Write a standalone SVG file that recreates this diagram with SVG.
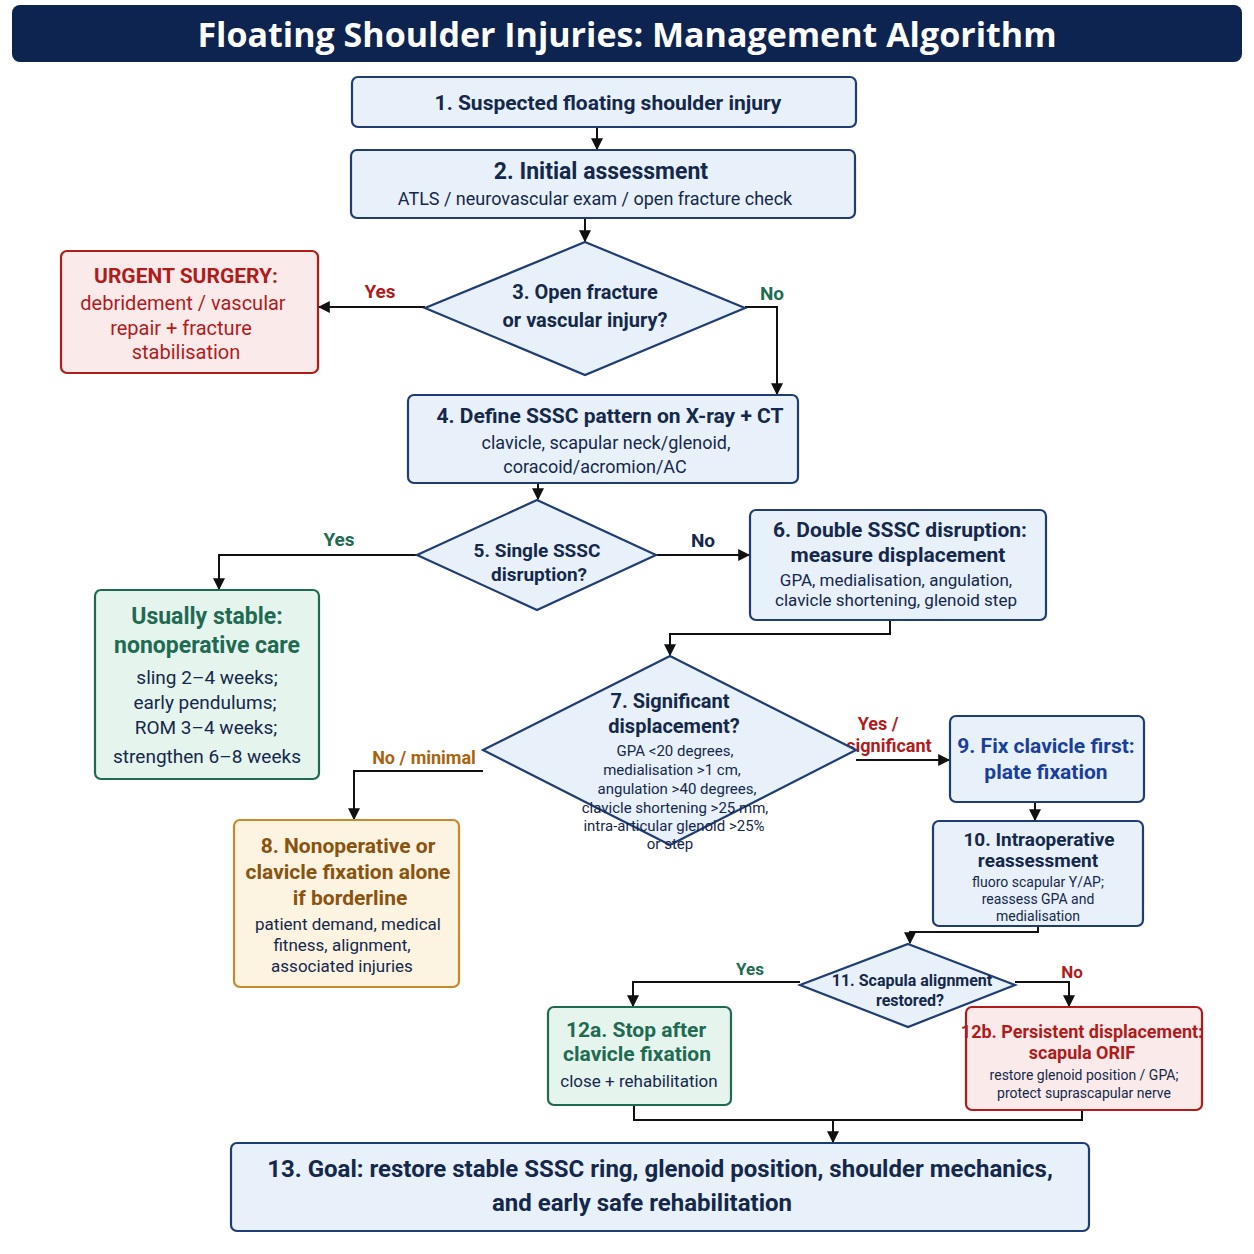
<svg xmlns="http://www.w3.org/2000/svg" width="1254" height="1254" viewBox="0 0 1254 1254">
<style>
text{font-family:Roboto,"Noto Sans",sans-serif;text-anchor:middle;fill:#14284b}
.n{fill:#e8f0fa;stroke:#1f3d73;stroke-width:2.2}
.t{font-weight:bold;font-size:21px}
.s{font-size:17px}
.xs{font-size:14px}
.g rect{fill:#e6f4ee;stroke:#1e6b52;stroke-width:2.2}
.g text{fill:#1e6b52}
.r rect{fill:#fbeaea;stroke:#b01c1c;stroke-width:2.2}
.r text.t{fill:#b01c1c}
.o rect{fill:#fdf3e1;stroke:#c8892b;stroke-width:2.2}
.o text.t{fill:#8a5410}
.c path{fill:none;stroke:#111;stroke-width:2;marker-end:url(#a)}
.l{font-weight:bold;font-size:19px}
</style>
<defs><marker id="a" viewBox="0 0 10 10" refX="9" refY="5" markerWidth="6" markerHeight="6" orient="auto"><path d="M0,0L10,5L0,10z" fill="#111"/></marker></defs>
<rect width="1254" height="1254" fill="#fff"/>
<g id="title"><rect x="12" y="5" width="1230" height="57" rx="8" fill="#0d2350"/><text x="627" y="47" style="fill:#fff;font-weight:bold;font-size:34px;font-family:'Open Sans',sans-serif">Floating Shoulder Injuries: Management Algorithm</text></g>
<g class="c" id="connectors">
<path d="M597,127V149"/><path d="M585,218V241"/>
<path d="M425,307H319"/><path d="M745,307H777V394"/>
<path d="M538,483V499"/>
<path d="M417,555H219V589"/><path d="M656,555H749"/>
<path d="M890,620V634H670V655"/>
<path d="M483,771H354V819"/><path d="M856,760H949"/>
<path d="M1035,802V820"/>
<path d="M1038,926V932H910V943"/>
<path d="M800,982H633V1006"/><path d="M1015,982H1069V1006"/>
<path d="M634,1105V1120H1082V1110" style="marker-end:none"/><path d="M833,1120V1142"/>
</g>
<g id="labels">
<text x="380" y="298" class="l" style="fill:#b01c1c">Yes</text>
<text x="772" y="300" class="l" style="fill:#1e6b52">No</text>
<text x="339" y="546" class="l" style="fill:#1e6b52">Yes</text>
<text x="703" y="547" class="l" style="fill:#14284b">No</text>
<text x="424" y="764" class="l" style="fill:#a8640f;font-size:18px">No / minimal</text>
<text x="878" y="730" class="l" style="fill:#b01c1c;font-size:18px">Yes /</text>
<text x="889" y="752" class="l" style="fill:#b01c1c;font-size:18px">significant</text>
<text x="750" y="975" class="l" style="fill:#1e6b52;font-size:17px">Yes</text>
<text x="1072" y="978" class="l" style="fill:#b01c1c;font-size:17px">No</text>
</g>
<g id="n1"><rect class="n" x="352" y="77" width="504" height="50" rx="6"/><text x="608" y="110" class="t">1. Suspected floating shoulder injury</text></g>
<g id="n2"><rect class="n" x="351" y="150" width="504" height="68" rx="6"/><text x="601" y="179" class="t" style="font-size:23px">2. Initial assessment</text><text x="595" y="205" class="s" style="font-size:18px">ATLS / neurovascular exam / open fracture check</text></g>
<g id="n3"><polygon class="n" points="585,242 745,308 585,375 425,308"/><text x="585" y="299" class="t" style="font-size:20px">3. Open fracture</text><text x="585" y="327" class="t" style="font-size:20px">or vascular injury?</text></g>
<g id="urgent" class="r"><rect x="61" y="251" width="257" height="122" rx="6"/><text x="186" y="283" class="t">URGENT SURGERY:</text><text x="183" y="310" class="t" style="font-weight:normal;fill:#b01c1c;font-size:20px">debridement / vascular</text><text x="181" y="335" style="fill:#b01c1c;font-size:20px">repair + fracture</text><text x="186" y="359" style="fill:#b01c1c;font-size:20px">stabilisation</text></g>
<g id="n4"><rect class="n" x="408" y="395" width="390" height="88" rx="6"/><text x="610" y="423" class="t">4. Define SSSC pattern on X-ray + CT</text><text x="606" y="449" class="s" style="font-size:18px">clavicle, scapular neck/glenoid,</text><text x="595" y="473" class="s" style="font-size:18px">coracoid/acromion/AC</text></g>
<g id="n5"><polygon class="n" points="537,500 656,555 537,610 417,555"/><text x="537" y="557" class="t" style="font-size:19px">5. Single SSSC</text><text x="539" y="581" class="t" style="font-size:19px">disruption?</text></g>
<g id="n6"><rect class="n" x="750" y="510" width="296" height="110" rx="6"/><text x="900" y="537" class="t">6. Double SSSC disruption:</text><text x="898" y="562" class="t">measure displacement</text><text x="896" y="586" class="s">GPA, medialisation, angulation,</text><text x="896" y="606" class="s">clavicle shortening, glenoid step</text></g>
<g id="n-stable" class="g"><rect x="95" y="590" width="224" height="189" rx="6"/><text x="207" y="624" class="t" style="font-size:23px">Usually stable:</text><text x="207" y="653" class="t" style="font-size:23px">nonoperative care</text><text x="207" y="684" class="s" style="fill:#14284b;font-size:19px">sling 2–4 weeks;</text><text x="205" y="709" class="s" style="fill:#14284b;font-size:19px">early pendulums;</text><text x="206" y="734" class="s" style="fill:#14284b;font-size:19px">ROM 3–4 weeks;</text><text x="207" y="763" class="s" style="fill:#14284b;font-size:19px">strengthen 6–8 weeks</text></g>
<g id="n7"><polygon class="n" points="670,656 856,750 670,845 483,750"/><text x="670" y="708" class="t" style="font-size:20px">7. Significant</text><text x="674" y="733" class="t" style="font-size:20px">displacement?</text><text x="675" y="756" class="xs" style="font-size:15px">GPA &lt;20 degrees,</text><text x="672" y="775" class="xs" style="font-size:15px">medialisation &gt;1 cm,</text><text x="677" y="794" class="xs" style="font-size:15px">angulation &gt;40 degrees,</text><text x="675" y="813" class="xs" style="font-size:15px">clavicle shortening &gt;25 mm,</text><text x="674" y="831" class="xs" style="font-size:15px">intra-articular glenoid &gt;25%</text><text x="670" y="849" class="xs" style="font-size:15px">or step</text></g>
<g id="n8" class="o"><rect x="234" y="820" width="225" height="167" rx="6"/><text x="348" y="853" class="t">8. Nonoperative or</text><text x="348" y="879" class="t">clavicle fixation alone</text><text x="350" y="905" class="t">if borderline</text><text x="348" y="930" class="s">patient demand, medical</text><text x="342" y="951" class="s">fitness, alignment,</text><text x="342" y="972" class="s">associated injuries</text></g>
<g id="n9"><rect class="n" x="950" y="716" width="194" height="86" rx="6"/><text x="1046" y="753" class="t" style="fill:#1a3f9a">9. Fix clavicle first:</text><text x="1046" y="779" class="t" style="fill:#1a3f9a">plate fixation</text></g>
<g id="n10"><rect class="n" x="933" y="821" width="210" height="105" rx="6"/><text x="1039" y="846" class="t" style="font-size:19px">10. Intraoperative</text><text x="1038" y="867" class="t" style="font-size:19px">reassessment</text><text x="1038" y="887" class="xs">fluoro scapular Y/AP;</text><text x="1038" y="904" class="xs">reassess GPA and</text><text x="1038" y="921" class="xs">medialisation</text></g>
<g id="n11"><polygon class="n" points="908,944 1015,985 908,1027 800,985"/><text x="912" y="986" class="t" style="font-size:16px">11. Scapula alignment</text><text x="910" y="1006" class="t" style="font-size:16px">restored?</text></g>
<g id="n12a" class="g"><rect x="548" y="1007" width="183" height="98" rx="6"/><text x="636" y="1037" class="t">12a. Stop after</text><text x="637" y="1061" class="t">clavicle fixation</text><text x="639" y="1087" class="s" style="fill:#14284b">close + rehabilitation</text></g>
<g id="n12b" class="r"><rect x="966" y="1007" width="236" height="103" rx="6"/><text x="1082" y="1038" class="t" style="font-size:18px">12b. Persistent displacement:</text><text x="1082" y="1059" class="t" style="font-size:18px">scapula ORIF</text><text x="1084" y="1080" class="xs">restore glenoid position / GPA;</text><text x="1084" y="1098" class="xs">protect suprascapular nerve</text></g>
<g id="n13"><rect class="n" x="231" y="1143" width="858" height="88" rx="6"/><text x="660" y="1177" class="t" style="font-size:24px">13. Goal: restore stable SSSC ring, glenoid position, shoulder mechanics,</text><text x="642" y="1211" class="t" style="font-size:24px">and early safe rehabilitation</text></g>
</svg>
